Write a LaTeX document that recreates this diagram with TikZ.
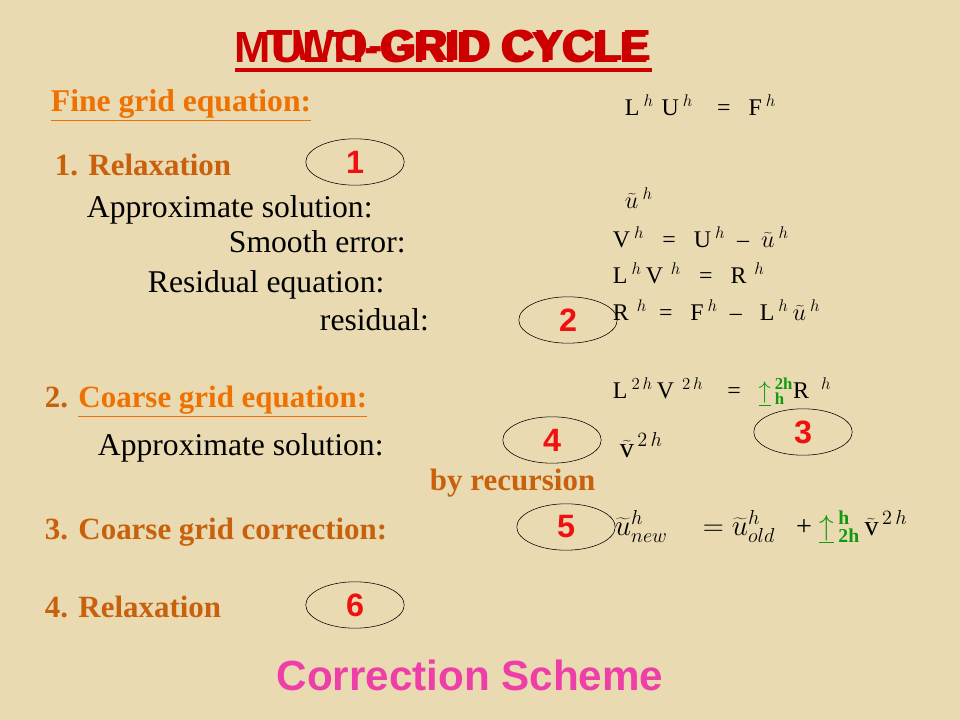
\documentclass[tikz,border=0pt]{standalone}
\usepackage{fontspec}
\setmainfont{Liberation Serif}
\setsansfont{Liberation Sans}
\usetikzlibrary{positioning, shapes.geometric}
\definecolor{paper}{HTML}{E9DAB2}
\definecolor{titlered}{HTML}{CC0000}
\definecolor{headorange}{HTML}{F07000}
\definecolor{steporange}{HTML}{C8600C}
\definecolor{numred}{HTML}{F01010}
\definecolor{schemepink}{HTML}{EE3FA8}
\definecolor{arrgreen}{HTML}{119911}
\newcommand\restr[2]{{\color{arrgreen}$\underline{\uparrow}\,^{\mathbf{#1}}_{\mathbf{#2}}$}}

\begin{document}
\begin{tikzpicture}[x=0.025cm, y=-0.025cm,
    txt/.style={anchor=west, font=\fontsize{22.5}{24}\selectfont},
    stepname/.style={anchor=west, text=steporange, font=\fontsize{22}{24}\selectfont\bfseries},
    heading/.style={anchor=west, text=headorange, font=\fontsize{22.5}{24}\selectfont\bfseries},
    eqn/.style={anchor=west, font=\fontsize{17}{19}\selectfont},
    stepmark/.style={ellipse, draw, minimum width=70pt, minimum height=33pt, inner sep=0pt, text=numred, font=\sffamily\bfseries\fontsize{23}{25}\selectfont}]

    \fill[paper] (0,0) rectangle (960,720);

    % title, two versions on top of each other
    \node[anchor=west, text=titlered, font=\sffamily\bfseries\fontsize{31}{33}\selectfont] (multi) at (230,48) {MULTI-GRID CYCLE};
    \node[anchor=west, text=titlered, font=\sffamily\bfseries\fontsize{31}{33}\selectfont] (two) at (262,46) {TWO-GRID CYCLE};
    \draw[titlered, line width=2.5pt] (235,70) -- (652,70);

    % fine grid
    \node[heading] (fine) at (46,105) {\underline{Fine grid equation:}};
    \node[stepname] (relax1) at (50,165) {1. Relaxation};
    \node[txt] (approx1) at (82,210) {Approximate solution:};
    \node[txt] (smooth) at (224,242) {Smooth error:};
    \node[txt] (reseq) at (143,285) {Residual equation:};
    \node[txt] (resid) at (315,320) {residual:};

    % coarse grid
    \node[stepname] (coarse) at (40,402) {2. {\color{headorange}\underline{Coarse grid equation:}}};
    \node[txt] (approx2) at (93,448) {Approximate solution:};
    \node[stepname] (recur) at (425,483) {by recursion};
    \node[stepname] (corr) at (40,532) {3. Coarse grid correction:};
    \node[stepname] (relax2) at (40,607) {4. Relaxation};

    % numbered steps
    \node[stepmark] (n1) at (355,162) {1};
    \node[stepmark] (n2) at (568,320) {2};
    \node[stepmark] (n3) at (803,432) {3};
    \node[stepmark] (n4) at (552,440) {4};
    \node[stepmark] (n5) at (566,527) {5};
    \node[stepmark] (n6) at (355,605) {6};

    % equations
    \node[eqn] (e1) at (620,105) {L\,$^{h}$\,\,U\,$^{h}$ \ \ \ = \ \ F\,$^{h}$};
    \node[eqn] (e2) at (620,198) {$\widetilde{u}$\,$^{h}$};
    \node[eqn] (e3) at (608,237) {V\,$^{h}$ \ \ = \ \ U\,$^{h}$ \ -- \ $\widetilde{u}$\,$^{h}$};
    \node[eqn] (e4) at (608,273) {L\,$^{h}$\,V\,\,$^{h}$ \ \ = \ \ R\,\,$^{h}$};
    \node[eqn] (e5) at (608,310) {R\,\,$^{h}$ \ = \ \ F\,$^{h}$ \ -- \ \ L\,$^{h}$\,$\widetilde{u}$\,$^{h}$};
    \node[eqn] (e6) at (608,392) {L\,$^{2\,h}$\,V\,\,$^{2\,h}$ \ \ \ = \ \ \restr{2h}{h}R\,\,\,$^{h}$};
    \node[eqn, font=\fontsize{20}{22}\selectfont] (e8v) at (615,445) {$\widetilde{\mathrm{v}}^{\,2\,h}$};
    \node[eqn, font=\fontsize{20}{22}\selectfont] (e8) at (610,527) {$\widetilde{u}{}^{h}_{new}$ \quad $=\widetilde{u}{}^{h}_{old}$ \ \ + \restr{h}{2h}\,$\widetilde{\mathrm{v}}^{\,2\,h}$};

    \node[text=schemepink, font=\sffamily\bfseries\fontsize{30}{32}\selectfont] (scheme) at (470,675) {Correction Scheme};
\end{tikzpicture}
\end{document}
